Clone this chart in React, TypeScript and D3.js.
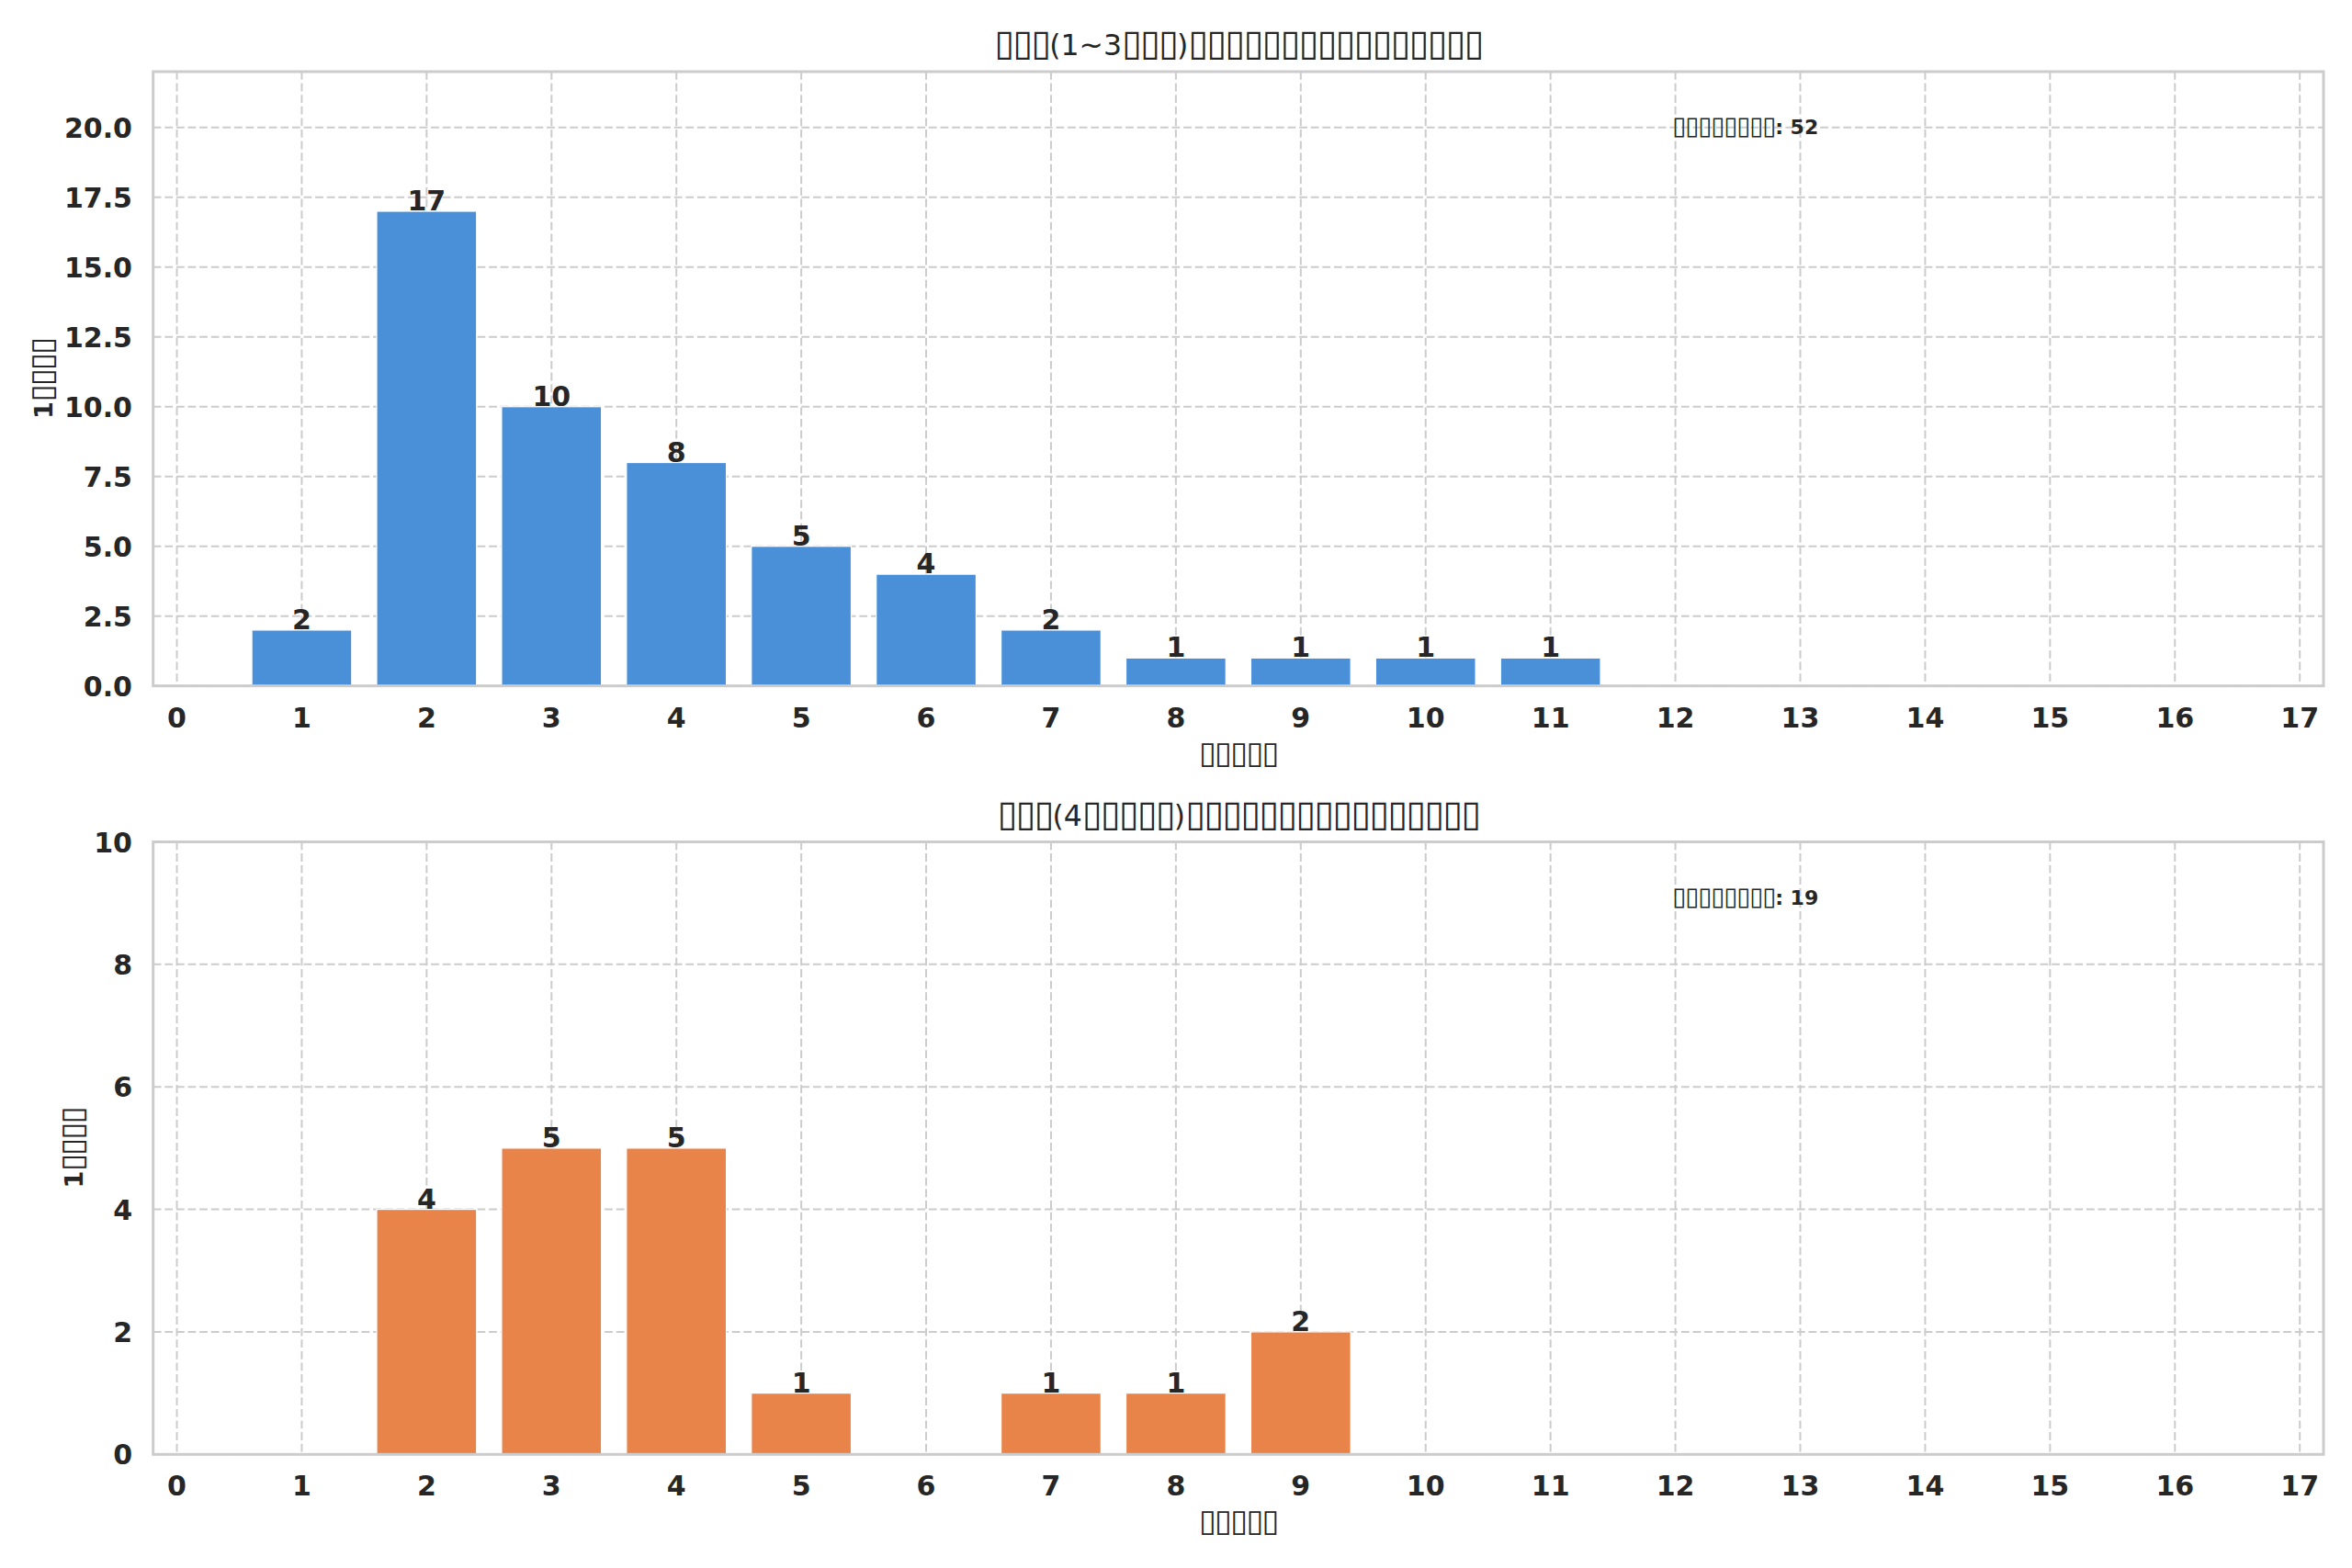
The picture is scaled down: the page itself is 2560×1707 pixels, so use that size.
import React, { useEffect } from "react";
import * as d3 from "d3";

// tofu boxes as shown in the reference (glyphs missing in the source figure)
const B = "▯";
const rep = (n: number) => B.repeat(n);

const xTickValues = [0, 1, 2, 3, 4, 5, 6, 7, 8, 9, 10, 11, 12, 13, 14, 15, 16, 17];

const topTitle = `${rep(3)}(1~3${rep(3)})${rep(16)}`;
const topCategories = [1, 2, 3, 4, 5, 6, 7, 8, 9, 10, 11];
const topCounts = [2, 17, 10, 8, 5, 4, 2, 1, 1, 1, 1];
const topYTicks = [0, 2.5, 5, 7.5, 10, 12.5, 15, 17.5, 20];

const bottomTitle = `${rep(3)}(4${rep(5)})${rep(16)}`;
const bottomCategories = [2, 3, 4, 5, 7, 8, 9];
const bottomCounts = [4, 5, 5, 1, 1, 1, 2];
const bottomYTicks = [0, 2, 4, 6, 8, 10];

const xLabel = rep(5);
const yLabel = `1${rep(4)}`;
const totalLabel = rep(8);

const W = 2560;
const H = 1707;
const FONT = "DejaVu Sans";
const TEXT = "#262626";
const GRID = "#cccccc";

// split a string into runs so the box glyphs can be sized like the reference's tofu
const Tofu = ({ s, size }: { s: string; size: number }) => {
  const runs = s.match(/▯+|[^▯]+/g) || [];
  return (
    <>
      {runs.map((r, i) =>
        r[0] === B ? (
          <tspan key={i} fontSize={size * 1.25} fontWeight="normal" letterSpacing={-0.0525 * size}>{r}</tspan>
        ) : (
          <tspan key={i}>{r}</tspan>
        )
      )}
    </>
  );
};

interface PanelProps {
  top: number;
  bottom: number;
  title: string;
  cats: number[];
  counts: number[];
  yTicks: number[];
  yMax: number;
  yFmt: (v: number) => string;
  color: string;
  yLabelX: number;
}

const Panel = ({ top, bottom, title, cats, counts, yTicks, yMax, yFmt, color, yLabelX }: PanelProps) => {
  const left = 166.7;
  const right = 2529;
  const x = d3.scaleLinear().domain([-0.19, 17.19]).range([left, right]);
  const y = d3.scaleLinear().domain([0, yMax]).range([bottom, top]);
  const bw = x(0.8) - x(0);
  const total = d3.sum(counts);

  return (
    <g>
      {xTickValues.map(t => (
        <line key={"gx" + t} x1={x(t)} x2={x(t)} y1={top} y2={bottom}
          stroke={GRID} strokeWidth={2} strokeDasharray="8.8,3.8" />
      ))}
      {yTicks.map(t => (
        <line key={"gy" + t} x1={left} x2={right} y1={y(t)} y2={y(t)}
          stroke={GRID} strokeWidth={2} strokeDasharray="8.8,3.8" />
      ))}
      {cats.map((c, i) => (
        <rect key={"b" + c} x={x(c) - bw / 2} y={y(counts[i])} width={bw}
          height={y(0) - y(counts[i])} fill={color} stroke="#ffffff" strokeWidth={1.2} />
      ))}
      {cats.map((c, i) => (
        <text key={"v" + c} x={x(c)} y={y(counts[i]) - 1} textAnchor="middle"
          fontSize={30} fontWeight="bold" fill={TEXT}>{counts[i]}</text>
      ))}
      <rect x={left} y={top} width={right - left} height={bottom - top}
        fill="none" stroke={GRID} strokeWidth={3} />
      {xTickValues.map(t => (
        <text key={"tx" + t} x={x(t)} y={bottom + 45} textAnchor="middle"
          fontSize={30} fontWeight="bold" fill={TEXT}>{t}</text>
      ))}
      {yTicks.map(t => (
        <text key={"ty" + t} x={left - 22.7} y={y(t) + 11} textAnchor="end"
          fontSize={30} fontWeight="bold" fill={TEXT}>{yFmt(t)}</text>
      ))}
      <text x={(left + right) / 2} y={top - 18} textAnchor="middle" fontSize={31.5} fill={TEXT}>
        <Tofu s={title} size={31.5} />
      </text>
      <text x={(left + right) / 2} y={bottom + 84} textAnchor="middle" fontSize={27} fontWeight="bold" fill={TEXT}>
        <Tofu s={xLabel} size={27} />
      </text>
      <text transform={`translate(${yLabelX},${(top + bottom) / 2}) rotate(-90)`} textAnchor="middle"
        fontSize={27} fontWeight="bold" fill={TEXT}>
        <Tofu s={yLabel} size={27} />
      </text>
      <text x={left + 0.7 * (right - left)} y={bottom - 0.91 * (bottom - top) + 8} fontSize={22}
        fontWeight="bold" fill={TEXT}>
        <Tofu s={`${totalLabel}: ${total}`} size={22} />
      </text>
    </g>
  );
};

export default function App() {
  useEffect(() => {
    document.body.style.margin = "0";
  }, []);

  return (
    <svg width={W} height={H} style={{ display: "block", background: "#ffffff" }} fontFamily={FONT}>
      <rect width={W} height={H} fill="#ffffff" />
      <Panel top={78} bottom={746.7} title={topTitle} cats={topCategories} counts={topCounts}
        yTicks={topYTicks} yMax={22} yFmt={d3.format(".1f")} color="#4a90d9" yLabelX={57.4} />
      <Panel top={916.5} bottom={1583.3} title={bottomTitle} cats={bottomCategories} counts={bottomCounts}
        yTicks={bottomYTicks} yMax={10} yFmt={d3.format("d")} color="#e8834a" yLabelX={89.7} />
    </svg>
  );
}
